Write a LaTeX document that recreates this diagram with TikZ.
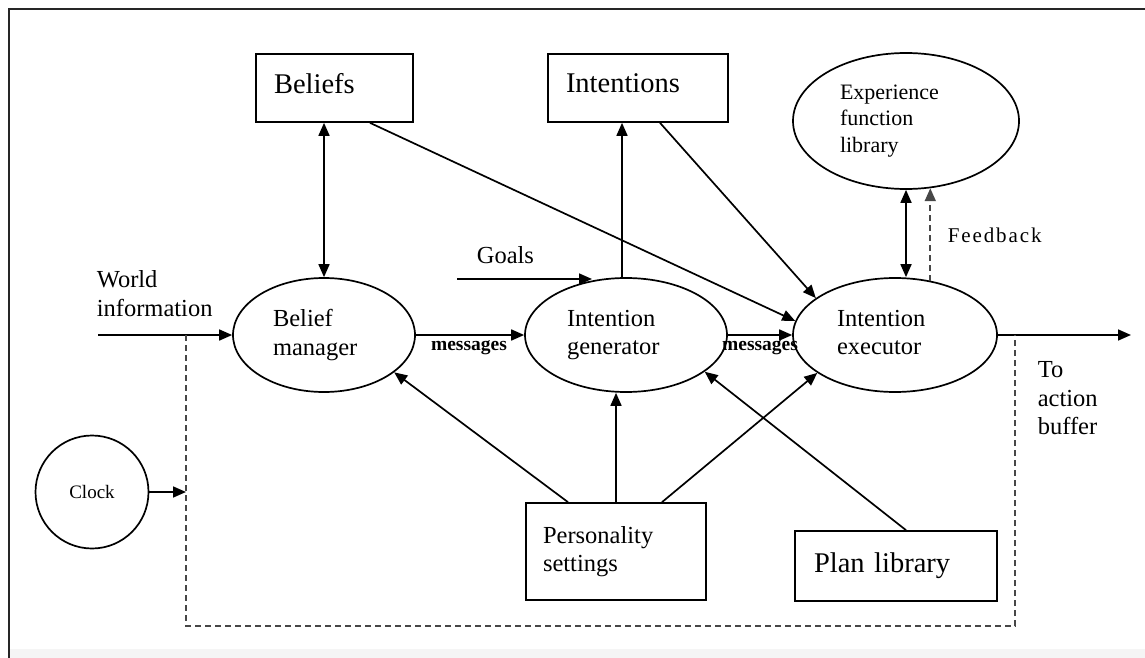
\documentclass[tikz,border=0pt]{standalone}
\usepackage{fontspec}
\setmainfont{Liberation Serif}
\usetikzlibrary{arrows.meta,shapes.geometric,calc}

% font sizes used in the diagram
\newcommand\dgLarge{\fontsize{28.5}{32}\selectfont}
\newcommand\dgMid{\fontsize{24.5}{28.5}\selectfont}
\newcommand\dgSmall{\fontsize{22}{26.5}\selectfont}
\newcommand\dgMsg{\fontsize{19.5}{22}\selectfont\bfseries}
\newcommand\dgClock{\fontsize{19}{22}\selectfont}
\newcommand\dgFeed{\fontsize{21}{24}\selectfont\addfontfeatures{LetterSpace=9}}

\begin{document}
\begin{tikzpicture}[x=1pt,y=-1pt,
  line width=1.7pt,
  >={Triangle[length=13pt,width=11pt]},
  store/.style={draw, rectangle, inner sep=0pt, align=left, font=\dgLarge},
  proc/.style={draw, ellipse, inner sep=0pt, align=left, font=\dgMid},
  freetext/.style={inner sep=0pt, font=\dgMid},
  dashline/.style={dash pattern=on 6pt off 4pt, draw=black!72, line width=1.9pt},
]
\useasboundingbox (0,0) rectangle (1145,658);

% page frame
\fill[black!4] (9,649) rectangle (1145,658);
\draw[black!85] (9,658) -- (9,9) -- (1145,9);

% stores
\node[store, minimum width=157pt, minimum height=68pt, text width=121pt, text depth=9pt] (beliefs) at (334.5,88) {Beliefs};
\node[store, minimum width=180pt, minimum height=68pt, text width=144pt, text depth=9pt] (intentions) at (638,88) {Intentions};
\node[store, font=\dgMid, minimum width=180pt, minimum height=97pt, text width=146pt] (personality) at (616,551.5) {Personality\\settings};
\node[store, minimum width=202pt, minimum height=70pt, text width=164pt] (plan) at (896,566) {Plan library};

% processes
\node[proc, font=\dgSmall, minimum width=226pt, minimum height=136pt, text width=132pt] (experience) at (906,121) {Experience\\function\\library};
\node[proc, minimum width=182pt, minimum height=114pt, text width=102pt] (bm) at (324,335) {Belief\\manager};
\node[proc, minimum width=202pt, minimum height=114pt, text width=118pt] (ig) at (626,335) {Intention\\generator};
\node[proc, minimum width=204pt, minimum height=114pt, text width=116pt] (ie) at (895,335) {Intention\\executor\vphantom{g}};
\node[draw, circle, minimum size=113pt, inner sep=0pt, font=\dgClock] (clock) at (92,492) {Clock};

% free labels
\node[freetext, align=left, anchor=north west] (world) at (96,270) {World\\information};
\node[freetext, anchor=base west] (goals) at (476,263) {Goals};
\node[freetext, align=left, anchor=north west] (buffer) at (1037,361) {To\\action\\buffer};
\node[inner sep=0pt, font=\dgFeed, anchor=base west] (feedback) at (947,242) {Feedback};
\node[inner sep=0pt, font=\dgMsg, anchor=base] (msg1) at (469,350) {messages};
\node[inner sep=0pt, font=\dgMsg, anchor=base] (msg2) at (760,350) {messages};

% loose ends of connectors
\coordinate (worldin) at (98,335);
\coordinate (goalin) at (457,279);
\coordinate (goalend) at (592,279);
\coordinate (out) at (1131,335);
\coordinate (tapL) at (186,335);
\coordinate (tapR) at (1015,335);
\coordinate (loopL) at (186,626);
\coordinate (loopR) at (1015,626);

% connectors
\draw[<->] (beliefs.south -| bm.north) -- (bm.north);
\draw[->] ([xshift=35.5pt]beliefs.south) -- (ie.172);
\draw[->] ([xshift=-4pt]ig.north) -- ([xshift=-4pt]ig.north |- intentions.south);
\draw[->] ([xshift=22pt]intentions.south) -- (ie.155);
\draw[->] (goalin) -- (goalend);
\draw[->] (worldin) -- (bm.west);
\draw[->] (bm.east) -- (ig.west);
\draw[->] (ig.east) -- (ie.west);
\draw[->] (ie.east) -- (out);
\draw[<->] (experience.south) -- (experience.south |- ie.north);
\draw[->, dashline] (ie.57) -- (ie.57 |- experience.290);
\draw[->] ([xshift=-48pt]personality.north) -- (bm.332);
\draw[->] (personality.north) -- (personality.north |- ig.south);
\draw[->] ([xshift=46pt]personality.north) -- (ie.206);
\draw[->] ([xshift=10pt]plan.north) -- (ig.335);
\draw[->] (clock.east) -- (clock.east -| tapL);
\draw[dashline] (tapL) -- (loopL) -- (loopR) -- (tapR);
\end{tikzpicture}
\end{document}
